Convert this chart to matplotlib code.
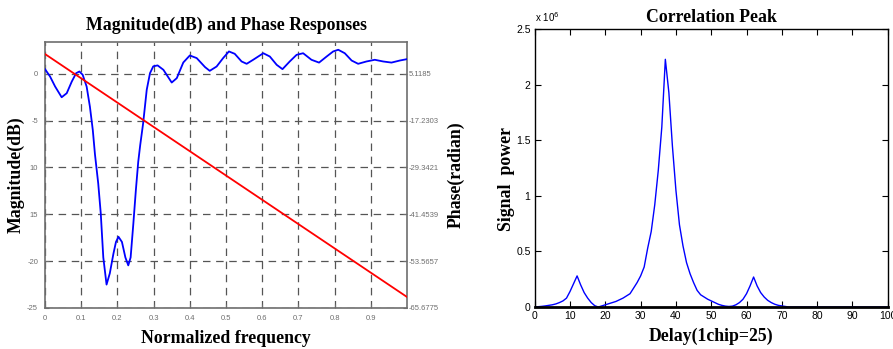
import numpy as np
import matplotlib
matplotlib.use("Agg")
import matplotlib.pyplot as plt
from matplotlib.ticker import FuncFormatter

# ---- left panel: magnitude (dB) ----
freq = [0.0, 0.014, 0.028, 0.046, 0.06, 0.074, 0.086, 0.095, 0.104, 0.115,
        0.124, 0.132, 0.138, 0.147, 0.154, 0.161, 0.170, 0.179, 0.189, 0.196,
        0.203, 0.2125, 0.222, 0.230, 0.2365, 0.244, 0.251, 0.2575, 0.263, 0.271,
        0.281, 0.290, 0.299, 0.311, 0.327, 0.350, 0.364, 0.382, 0.400, 0.419,
        0.442, 0.455, 0.474, 0.492, 0.508, 0.524, 0.543, 0.557, 0.575, 0.603,
        0.621, 0.640, 0.656, 0.676, 0.695, 0.713, 0.736, 0.757, 0.778, 0.796,
        0.810, 0.828, 0.847, 0.865, 0.888, 0.911, 0.934, 0.957, 0.980, 1.0]
mag_db = [0.5, -0.29, -1.36, -2.5, -2.07, -0.82, 0.07, 0.25, -0.1, -1.36,
          -3.5, -6.0, -8.6, -11.7, -14.9, -19.6, -22.5, -21.3, -19.2, -17.95,
          -17.4, -17.95, -19.6, -20.45, -19.6, -16.0, -12.4, -9.4, -7.6, -5.3,
          -1.7, 0.07, 0.8, 0.9, 0.43, -0.93, -0.46, 1.21, 1.96, 1.68,
          0.72, 0.32, 0.78, 1.68, 2.39, 2.14, 1.32, 1.07, 1.5, 2.2,
          1.85, 0.96, 0.5, 1.32, 2.03, 2.2, 1.5, 1.2, 1.85, 2.39,
          2.57, 2.2, 1.42, 1.07, 1.32, 1.5, 1.32, 1.2, 1.42, 1.57]
phase_freq = [0.0, 1.0]
phase_rad = [0.0, -62.83]

mag_ticks = [0, -5, -10, -15, -20, -25]
mag_ticklabels = ["0", "-5", "10", "15", "-20", "-25"]
phase_ticks = [-5.1185, -17.2303, -29.3421, -41.4539, -53.5657, -65.6775]
phase_ticklabels = ["5.1185", "-17.2303", "-29.3421", "-41.4539", "-53.5657", "-65.6775"]
freq_ticks = [0, 0.1, 0.2, 0.3, 0.4, 0.5, 0.6, 0.7, 0.8, 0.9]
freq_ticklabels = ["0", "0.1", "0.2", "0.3", "0.4", "0.5", "0.6", "0.7", "0.8", "0.9"]

# ---- right panel: correlation peak ----
delay = list(range(0, 101))
power = [0.0, 0.003, 0.006, 0.01, 0.015, 0.02, 0.028, 0.04, 0.055, 0.08,
         0.14, 0.21, 0.28, 0.2, 0.13, 0.08, 0.04, 0.012, 0.0, 0.01,
         0.02, 0.03, 0.04, 0.05, 0.065, 0.08, 0.1, 0.12, 0.17, 0.22,
         0.28, 0.36, 0.53, 0.68, 0.92, 1.23, 1.62, 2.23, 1.93, 1.45,
         1.05, 0.74, 0.55, 0.4, 0.3, 0.22, 0.15, 0.11, 0.09, 0.07,
         0.055, 0.04, 0.025, 0.015, 0.008, 0.005, 0.008, 0.02, 0.04, 0.07,
         0.12, 0.19, 0.27, 0.19, 0.13, 0.09, 0.06, 0.04, 0.025, 0.015,
         0.01, 0.005, 0.0, 0.0, 0.0, 0.0, 0.0, 0.0, 0.0, 0.0,
         0.0, 0.0, 0.0, 0.0, 0.0, 0.0, 0.0, 0.0, 0.0, 0.0,
         0.0, 0.0, 0.0, 0.0, 0.0, 0.0, 0.0, 0.0, 0.0, 0.0,
         0.0]
power = [p * 1e6 for p in power]

SERIF = "Liberation Serif"
SANS = "Liberation Sans"
GRAY = "#6e6e6e"
LABEL_FS = 12.8

fig = plt.figure(figsize=(8.93, 3.49), dpi=100)

# left panel
ax1 = fig.add_axes([0.0504, 0.1175, 0.4054, 0.7622])
db_lo, db_hi = -25, 3.4
ax1.plot(freq, mag_db, color="#0000ff", lw=1.3, zorder=3)
ax1.set_xlim(0, 1)
ax1.set_ylim(db_lo, db_hi)
ax1.set_xticks(freq_ticks)
ax1.set_xticklabels(freq_ticklabels)
ax1.set_yticks(mag_ticks)
ax1.set_yticklabels(mag_ticklabels)
ax1.grid(True, color="#555555", ls=(0, (6, 4.5)), lw=0.9)
ax1.tick_params(axis="both", direction="in", length=3, labelsize=5.5,
                labelcolor=GRAY, color=GRAY, pad=5)
for sp in ax1.spines.values():
    sp.set_color(GRAY)
    sp.set_linewidth(1.2)
for lab in ax1.get_xticklabels() + ax1.get_yticklabels():
    lab.set_family(SANS)

ax2 = ax1.twinx()
ph_lo = -65.6775
ph_hi = -5.1185 + db_hi * (12.1118 / 5)
ax2.plot(phase_freq, phase_rad, color="#ff0000", lw=1.3, zorder=3)
ax2.set_ylim(ph_lo, ph_hi)
ax2.set_yticks(phase_ticks)
ax2.set_yticklabels(phase_ticklabels)
ax2.tick_params(axis="y", direction="in", length=3, labelsize=5.5,
                labelcolor=GRAY, color=GRAY, pad=1)
for lab in ax2.get_yticklabels():
    lab.set_family(SANS)
for sp in ax2.spines.values():
    sp.set_visible(False)

ax1.set_title("Magnitude(dB) and Phase Responses", fontfamily=SERIF,
              fontweight="bold", fontsize=LABEL_FS, pad=9)
ax1.set_xlabel("Normalized frequency", fontfamily=SERIF, fontweight="bold",
               fontsize=LABEL_FS, labelpad=6)
ax1.set_ylabel("Magnitude(dB)", fontfamily=SERIF, fontweight="bold",
               fontsize=LABEL_FS)
ax1.yaxis.set_label_coords(-0.055, 0.5)
ax2.set_ylabel("Phase(radian)", fontfamily=SERIF, fontweight="bold",
               fontsize=LABEL_FS, rotation=90)
ax2.yaxis.set_label_coords(1.112, 0.5)

# right panel
ax3 = fig.add_axes([0.5988, 0.1203, 0.3953, 0.7957])
ax3.plot(delay, power, color="#0000ff", lw=1.0)
ax3.set_xlim(0, 100)
ax3.set_ylim(0, 2.5e6)
ax3.set_xticks(range(0, 101, 10))
ax3.set_yticks([0, 0.5e6, 1e6, 1.5e6, 2e6, 2.5e6])
ax3.yaxis.set_major_formatter(FuncFormatter(lambda v, p: "%g" % (v / 1e6)))
ax3.tick_params(axis="both", direction="in", length=4, labelsize=7.5,
                top=True, right=True, pad=3)
for lab in ax3.get_xticklabels() + ax3.get_yticklabels():
    lab.set_family(SANS)
for sp in ax3.spines.values():
    sp.set_linewidth(1.0)
ax3.spines["bottom"].set_linewidth(2.0)
ax3.text(0.0, 1.02, "x 10$^{6}$", transform=ax3.transAxes, fontsize=7,
         fontfamily=SANS, ha="left", va="bottom")
ax3.set_title("Correlation Peak", fontfamily=SERIF, fontweight="bold",
              fontsize=LABEL_FS, pad=5)
ax3.set_xlabel("Delay(1chip=25)", fontfamily=SERIF, fontweight="bold",
               fontsize=LABEL_FS, labelpad=5)
ax3.set_ylabel("Signal  power", fontfamily=SERIF, fontweight="bold",
               fontsize=LABEL_FS)
ax3.yaxis.set_label_coords(-0.055, 0.46)

fig.savefig("out.png", dpi=100)
